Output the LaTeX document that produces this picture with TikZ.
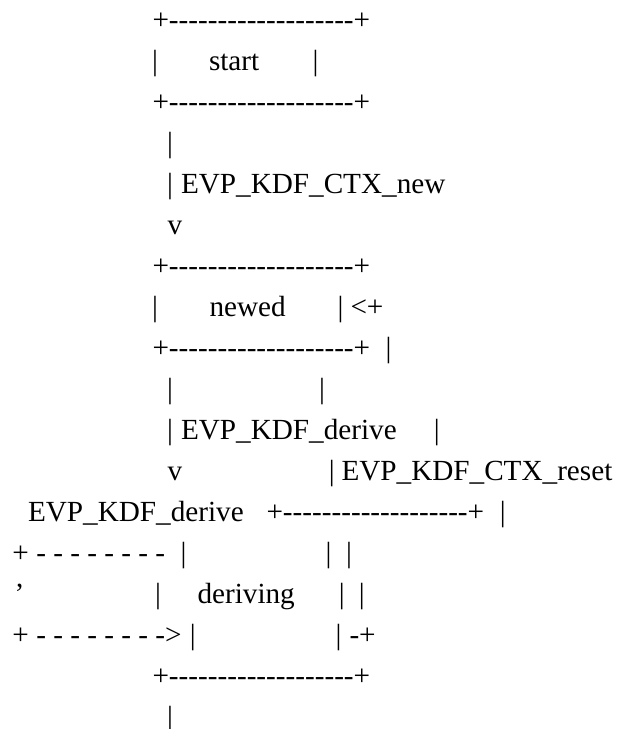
\documentclass[tikz,border=0pt]{standalone}
\usepackage{fontspec}
\setmainfont{Liberation Serif}[Ligatures=TeXOff]
\newcommand\asciiboxline{+-------------------+}
\begin{document}
\begin{tikzpicture}[x=1pt,y=-1pt,
  txt/.style={inner sep=0pt, outer sep=0pt, anchor=base west, text=black,
    font=\fontsize{29.2}{41}\selectfont},
  bar/.style={txt, anchor=base}]
\useasboundingbox[fill=white] (0,0) rectangle (617,729);
% line 1-3 : start box
\node[txt] (b1top) at (152.5,29.5) {\asciiboxline};
\node[bar] (b1l) at (155,70.5) {|};
\node[txt] (start) at (209,70.5) {start};
\node[bar] (b1r) at (315.5,70.5) {|};
\node[txt] (b1bot) at (152.5,111.5) {\asciiboxline};
% line 4-6
\node[bar] (a1) at (170,152.5) {|};
\node[bar] (a2) at (170,193.5) {|};
\node[txt] (new) at (181,193.5) {EVP\_KDF\_CTX\_new};
\node[txt] (v1) at (167.5,234.5) {v};
% line 7-9 : newed box
\node[txt] (b2top) at (152.5,275.5) {\asciiboxline};
\node[bar] (b2l) at (155,316.5) {|};
\node[txt] (newed) at (209.5,316.5) {newed};
\node[bar] (b2r) at (340.5,316.5) {|};
\node[txt] (back) at (350.5,316.5) {<+};
\node[txt] (b2bot) at (152.5,357.5) {\asciiboxline};
\node[bar] (r1) at (388.5,357.5) {|};
% line 10-12
\node[bar] (a3) at (170,398.5) {|};
\node[bar] (r2) at (322,398.5) {|};
\node[bar] (a4) at (170,439.5) {|};
\node[txt] (der1) at (181,439.5) {EVP\_KDF\_derive};
\node[bar] (r3) at (436.7,439.5) {|};
\node[txt] (v2) at (167.5,480.5) {v};
\node[bar] (r4) at (331.7,480.5) {|};
\node[txt] (reset) at (341.5,480.5) {EVP\_KDF\_CTX\_reset};
% line 13-17 : deriving box
\node[txt] (der2) at (28,521.5) {EVP\_KDF\_derive};
\node[txt] (b3top) at (266.5,521.5) {\asciiboxline};
\node[bar] (r5) at (502.7,521.5) {|};
\node[txt] (loop1) at (12.5,562.5) {+ - - - - - - - -};
\node[bar] (b3l1) at (183.5,562.5) {|};
\node[bar] (b3r1) at (328.5,562.5) {|};
\node[bar] (r6) at (349,562.5) {|};
\node[txt] (quote) at (14.5,603.5) {’};
\node[bar] (b3l2) at (158,603.5) {|};
\node[txt] (deriving) at (197.5,603.5) {deriving};
\node[bar] (b3r2) at (341.7,603.5) {|};
\node[bar] (r7) at (361.7,603.5) {|};
\node[txt] (loop2) at (12.5,644.5) {+ - - - - - - - ->};
\node[bar] (b3l3) at (192.7,644.5) {|};
\node[bar] (b3r3) at (338.5,644.5) {|};
\node[txt] (join) at (349.5,644.5) {-+};
\node[txt] (b3bot) at (152.5,685.5) {\asciiboxline};
\node[bar] (a5) at (170,726.5) {|};
\end{tikzpicture}
\end{document}
